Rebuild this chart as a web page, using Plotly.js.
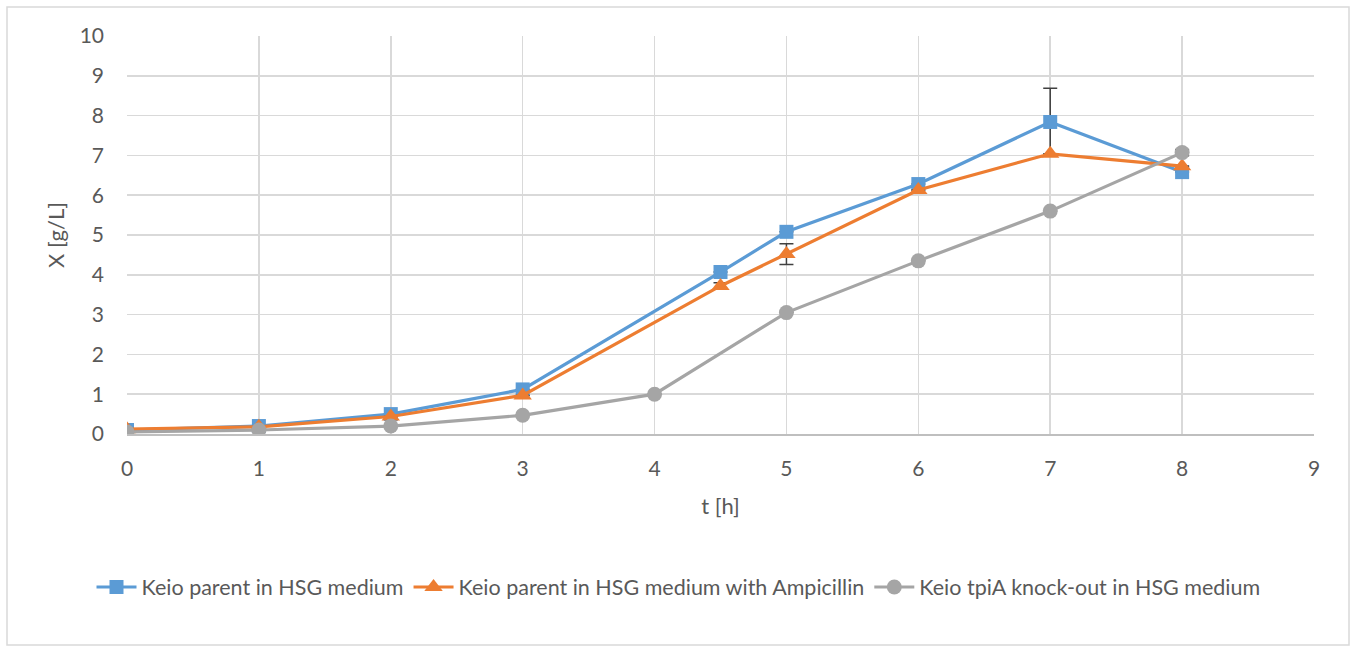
<!DOCTYPE html>
<html>
<head>
<meta charset="utf-8">
<script src="https://cdn.plot.ly/plotly-3.0.1.min.js"></script>
<style>html,body{margin:0;padding:0;background:#fff;}#chart{width:1357px;height:651px;}</style>
</head>
<body>
<div id="chart"></div>
<script>
const seriesNames = ["Keio parent in HSG medium", "Keio parent in HSG medium with Ampicillin", "Keio tpiA knock-out in HSG medium"];
const tParent = [0, 1, 2, 3, 4.5, 5, 6, 7, 8];
const xParent = [0.10, 0.20, 0.50, 1.12, 4.07, 5.08, 6.28, 7.84, 6.58];
const errParent = [0, 0, 0, 0, 0, 0, 0, 0.85, 0];
const tAmp = [0, 1, 2, 3, 4.5, 5, 6, 7, 8];
const xAmp = [0.12, 0.18, 0.44, 0.97, 3.72, 4.52, 6.13, 7.04, 6.73];
const errAmp = [0, 0, 0, 0, 0.08, 0.26, 0, 0, 0];
const tKO = [0, 1, 2, 3, 4, 5, 6, 7, 8];
const xKO = [0.05, 0.10, 0.20, 0.47, 1.00, 3.05, 4.35, 5.60, 7.07];
const errKO = [0, 0, 0, 0, 0, 0, 0, 0, 0.08];

const colors = ["#5B9BD5", "#ED7D31", "#A5A5A5"];
const symbols = ["square", "triangle-up", "circle"];
const markerSizes = [14, 16, 15];
const xs = [tParent, tAmp, tKO];
const ys = [xParent, xAmp, xKO];
const errs = [errParent, errAmp, errKO];

const traces = seriesNames.map((name, i) => ({
  x: xs[i], y: ys[i], name: name, type: "scatter", mode: "lines+markers",
  line: {color: colors[i], width: 3.2},
  marker: {color: colors[i], symbol: symbols[i], size: markerSizes[i]},
  error_y: {type: "data", array: errs[i], visible: true, color: "#404040", thickness: 1.5, width: 7}
}));

const L = 127, R = 43, T = 36, B = 217;
const pw = 1357 - L - R, ph = 651 - T - B;
const px = v => (v - L) / pw;
const py = v => (651 - B - v) / ph;

const layout = {
  width: 1357, height: 651,
  margin: {l: L, r: R, t: T, b: B, pad: 0, autoexpand: false},
  paper_bgcolor: "#fff", plot_bgcolor: "#fff",
  font: {family: "Lato, 'Open Sans', sans-serif", color: "#595959", size: 21},
  showlegend: true,
  legend: {orientation: "h", xref: "container", x: 0.5, xanchor: "center", y: py(587), yanchor: "middle",
           font: {size: 21.5, color: "#595959"}, itemwidth: 40, traceorder: "normal"},
  xaxis: {range: [0, 9], dtick: 1, tick0: 0, showgrid: true, gridcolor: "#d9d9d9", gridwidth: 1.5,
          zeroline: false, showline: true, linecolor: "#bfbfbf", linewidth: 1.5,
          ticks: "", tickfont: {size: 21, color: "#595959"}, ticklabelstandoff: 15,
          title: {text: "t [h]", font: {size: 22, color: "#595959"}, standoff: 20}},
  yaxis: {range: [0, 10], dtick: 1, tick0: 0, showgrid: true, gridcolor: "#d9d9d9", gridwidth: 1.5,
          zeroline: false, showline: false, ticks: "", tickfont: {size: 21, color: "#595959"},
          ticklabelstandoff: 22,
          title: {text: "X [g/L]", font: {size: 22, color: "#595959"}, standoff: 8}},
  shapes: [{type: "rect", xref: "paper", yref: "paper", x0: px(7), x1: px(1349), y0: py(645), y1: py(7),
            line: {color: "#d9d9d9", width: 1.5}, fillcolor: "rgba(0,0,0,0)", layer: "below"}]
};

Plotly.newPlot("chart", traces, layout, {displayModeBar: false, staticPlot: true});
</script>
</body>
</html>
